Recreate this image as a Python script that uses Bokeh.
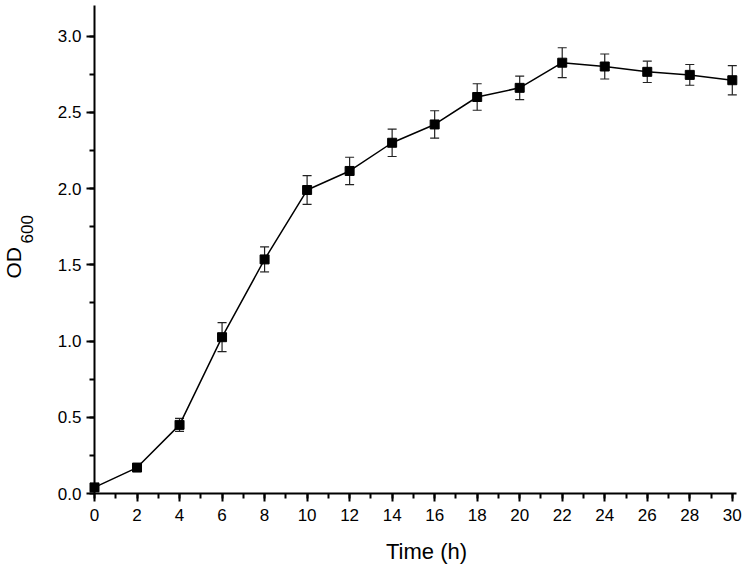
import numpy as np
from bokeh.plotting import figure
from bokeh.models import ColumnDataSource, Whisker, TeeHead, Label, Range1d, FixedTicker, PrintfTickFormatter
from bokeh.embed import file_html
from bokeh.resources import INLINE

time_h = [0, 2, 4, 6, 8, 10, 12, 14, 16, 18, 20, 22, 24, 26, 28, 30]
od600 = [0.04, 0.17, 0.45, 1.025, 1.535, 1.99, 2.115, 2.30, 2.42, 2.60, 2.66, 2.825, 2.80, 2.765, 2.745, 2.71]
od_err = [0.01, 0.015, 0.042, 0.095, 0.082, 0.094, 0.09, 0.09, 0.09, 0.087, 0.077, 0.098, 0.082, 0.07, 0.068, 0.096]
x_ticks = list(range(0, 31, 2))
y_ticks = [0.0, 0.5, 1.0, 1.5, 2.0, 2.5, 3.0]
x_label = "Time (h)"
y_label_main = "OD"
y_label_sub = "600"

lower = [v - e for v, e in zip(od600, od_err)]
upper = [v + e for v, e in zip(od600, od_err)]
src = ColumnDataSource(data=dict(x=time_h, y=od600, lower=lower, upper=upper))

FONT = "Liberation Sans"
W, H = 746, 569
X0_PX, Y0_PX = 94, 493          # pixel position of the origin
PX_PER_X, PX_PER_Y = 21.26, 152.5

p = figure(width=W, height=H, output_backend="svg", toolbar_location=None,
           x_range=Range1d(-X0_PX / PX_PER_X, (W - X0_PX) / PX_PER_X),
           y_range=Range1d(-(H - Y0_PX) / PX_PER_Y, Y0_PX / PX_PER_Y),
           min_border_left=0, min_border_right=0, min_border_top=0, min_border_bottom=0)
p.outline_line_color = None
p.xgrid.visible = False
p.ygrid.visible = False

p.xaxis.fixed_location = 0
p.yaxis.fixed_location = 0
p.xaxis.bounds = (0, 30.2)
p.yaxis.bounds = (0, 3.2)

for ax in (p.xaxis[0], p.yaxis[0]):
    ax.axis_line_width = 2
    ax.axis_line_color = "black"
    ax.major_tick_line_width = 2
    ax.minor_tick_line_width = 2
    ax.major_tick_in = 0
    ax.major_tick_out = 8
    ax.minor_tick_in = 0
    ax.minor_tick_out = 5
    ax.major_label_text_font = FONT
    ax.major_label_text_font_size = "17px"
    ax.major_label_text_color = "black"

p.xaxis.ticker = FixedTicker(ticks=x_ticks, minor_ticks=list(range(0, 31)))
p.yaxis.ticker = FixedTicker(ticks=y_ticks, minor_ticks=[i * 0.25 for i in range(13)])
p.yaxis.formatter = PrintfTickFormatter(format="%.1f")
p.xaxis.major_label_standoff = 7
p.yaxis.major_label_standoff = 5

p.line("x", "y", source=src, line_color="black", line_width=1.5)
w = Whisker(source=src, base="x", lower="lower", upper="upper",
            line_color="#222222", line_width=1.2,
            upper_head=TeeHead(size=9, line_color="#222222", line_width=1.2),
            lower_head=TeeHead(size=9, line_color="#222222", line_width=1.2))
p.add_layout(w)
p.scatter("x", "y", source=src, marker="square", size=9, fill_color="black", line_color="black")

# axis titles (screen units are measured from the frame's bottom-left corner)
p.add_layout(Label(x=13, y=H - 278, x_units="screen", y_units="screen", text=y_label_main,
                   angle=np.pi / 2, text_font=FONT, text_font_size="21px",
                   text_align="left", text_baseline="alphabetic", text_color="black"))
p.add_layout(Label(x=26, y=H - 243, x_units="screen", y_units="screen", text=y_label_sub,
                   angle=np.pi / 2, text_font=FONT, text_font_size="17px",
                   text_align="left", text_baseline="alphabetic", text_color="black"))
p.add_layout(Label(x=426, y=H - 551, x_units="screen", y_units="screen", text=x_label,
                   text_font=FONT, text_font_size="22px",
                   text_align="center", text_baseline="alphabetic", text_color="black"))

out = file_html(p, INLINE)
open("out.html", "w").write(out)
